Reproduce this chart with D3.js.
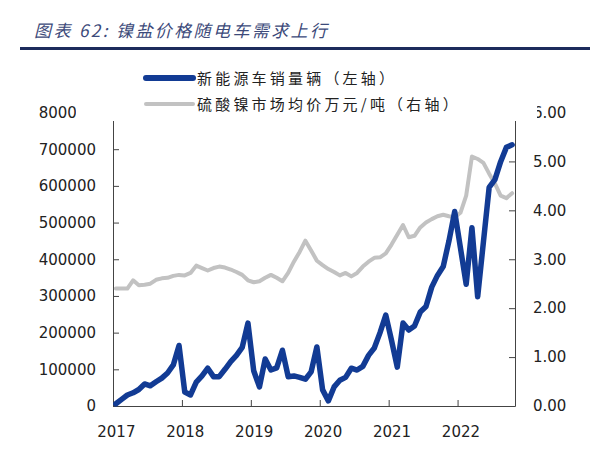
<!DOCTYPE html>
<html><head><meta charset="utf-8">
<script src="https://cdn.jsdelivr.net/npm/d3@7"></script>
<style>body{margin:0;background:#fff}</style>
</head><body><svg id="c" width="600" height="465"></svg>
<script>
const titleText = "图表 62:  镍盐价格随电车需求上行";
const legendLabels = ["新能源车销量辆（左轴）", "硫酸镍市场均价万元/吨（右轴）"];
const years = ["2017", "2018", "2019", "2020", "2021", "2022"];
const leftTicks = [0, 100000, 200000, 300000, 400000, 500000, 600000, 700000, 800000];
const rightTicks = [0, 1, 2, 3, 4, 5, 6];
// monthly, Jan 2017 - Oct 2022
const salesNEV = [
  6000, 18000, 30000, 36000, 45000, 60000, 55000, 66000, 76000, 90000, 112000, 165000,
  38000, 30000, 65000, 82000, 103000, 80000, 80000, 100000, 121000, 138000, 160000, 226000,
  96000, 52000, 128000, 98000, 104000, 152000, 80000, 82000, 78000, 73000, 93000, 161000,
  44000, 14000, 52000, 70000, 78000, 103000, 98000, 108000, 138000, 158000, 200000, 248000,
  179000, 106000, 226000, 207000, 218000, 256000, 271000, 324000, 356000, 380000, 450000, 530000,
  431000, 332000, 486000, 298000, 447000, 596000, 617000, 666000, 705000, 712000
];
const nickelPrice = [
  2.40, 2.40, 2.40, 2.57, 2.47, 2.48, 2.50, 2.58, 2.61, 2.62, 2.66, 2.68,
  2.67, 2.72, 2.87, 2.82, 2.77, 2.82, 2.85, 2.83, 2.79, 2.74, 2.68, 2.57,
  2.53, 2.55, 2.62, 2.68, 2.62, 2.55, 2.72, 2.95, 3.15, 3.38, 3.18, 2.97,
  2.88, 2.80, 2.74, 2.67, 2.72, 2.65, 2.72, 2.85, 2.95, 3.03, 3.04, 3.12,
  3.30, 3.50, 3.70, 3.45, 3.48, 3.65, 3.75, 3.82, 3.88, 3.91, 3.88, 3.86,
  3.95, 4.30, 5.10, 5.05, 4.97, 4.75, 4.55, 4.30, 4.25, 4.35
];

const svg = d3.select("#c");
const L = 113, R = 515, T = 112.5, B = 406;
const n = salesNEV.length;
const x = d3.scaleLinear().domain([0, n]).range([L, R]);
const yL = d3.scaleLinear().domain([0, 800000]).range([B, T]);
const yR = d3.scaleLinear().domain([0, 6]).range([B, T]);
const font = "'DejaVu Sans', Verdana, sans-serif";
const cjk = "'Noto Sans CJK SC', sans-serif";

// title
svg.append("text").attr("x", 34).attr("y", 36.5)
  .attr("font-family", cjk).attr("font-size", 17).attr("font-style", "italic")
  .attr("letter-spacing", 2.4).attr("fill", "#3c4a7a").text(titleText);
svg.append("line").attr("x1", 20).attr("x2", 590).attr("y1", 48.5).attr("y2", 48.5)
  .attr("stroke", "#1d2b5c").attr("stroke-width", 3);

function styleAxis(g) {
  g.selectAll("path,line").attr("stroke", "#444").attr("stroke-width", 1);
  g.selectAll("text").attr("font-family", font).attr("font-size", 15).attr("fill", "#222");
}

// left axis
svg.append("g").attr("transform", `translate(${L},0)`)
  .call(d3.axisLeft(yL).tickValues(leftTicks).tickFormat(d3.format("d"))
    .tickSizeInner(-6).tickSizeOuter(0).tickPadding(17))
  .call(styleAxis);
// right axis
svg.append("g").attr("transform", `translate(${R},0)`)
  .call(d3.axisRight(yR).tickValues(rightTicks).tickFormat(d3.format(".2f"))
    .tickSizeInner(-6).tickSizeOuter(0).tickPadding(18))
  .call(styleAxis);
// bottom axis ticks
const monthTicks = years.map((d, i) => (i + 1) * 12).filter(v => v < n).concat([n]);
svg.append("g").attr("transform", `translate(0,${B})`)
  .call(d3.axisBottom(x).tickValues(monthTicks).tickFormat(() => "")
    .tickSizeInner(-6).tickSizeOuter(0))
  .call(styleAxis);
// bottom axis labels (at January)
svg.append("g").attr("transform", `translate(0,${B})`)
  .call(d3.axisBottom(x).tickValues(years.map((d, i) => i * 12 + 0.5))
    .tickFormat((d, i) => years[i]).tickSize(0).tickPadding(20))
  .call(styleAxis)
  .call(g => g.select(".domain").remove());

// lines
const lineL = d3.line().x((d, i) => x(i + 0.5)).y(d => yL(d));
const lineR = d3.line().x((d, i) => x(i + 0.5)).y(d => yR(d));
svg.append("path").datum(nickelPrice).attr("d", lineR)
  .attr("fill", "none").attr("stroke", "#c2c2c2").attr("stroke-width", 4)
  .attr("stroke-linejoin", "round").attr("stroke-linecap", "round");
svg.append("path").datum(salesNEV).attr("d", lineL)
  .attr("fill", "none").attr("stroke", "#123b94").attr("stroke-width", 5.5)
  .attr("stroke-linejoin", "round").attr("stroke-linecap", "round");

// legend box (covers top of axes)
const lg = svg.append("g");
lg.append("rect").attr("x", 76).attr("y", 55).attr("width", 461).attr("height", 66).attr("fill", "#fff");
const legendColors = ["#123b94", "#c2c2c2"];
const legendWidths = [6, 4];
const legendY = [78, 104];
legendLabels.forEach((lab, i) => {
  lg.append("line").attr("x1", 146).attr("x2", 193).attr("y1", legendY[i]).attr("y2", legendY[i])
    .attr("stroke", legendColors[i]).attr("stroke-width", legendWidths[i]).attr("stroke-linecap", "round");
  lg.append("text").attr("x", 197).attr("y", legendY[i] + 5.5)
    .attr("font-family", cjk).attr("font-size", 15).attr("letter-spacing", 3.2)
    .attr("fill", "#222").text(lab);
});
</script>
</body></html>
